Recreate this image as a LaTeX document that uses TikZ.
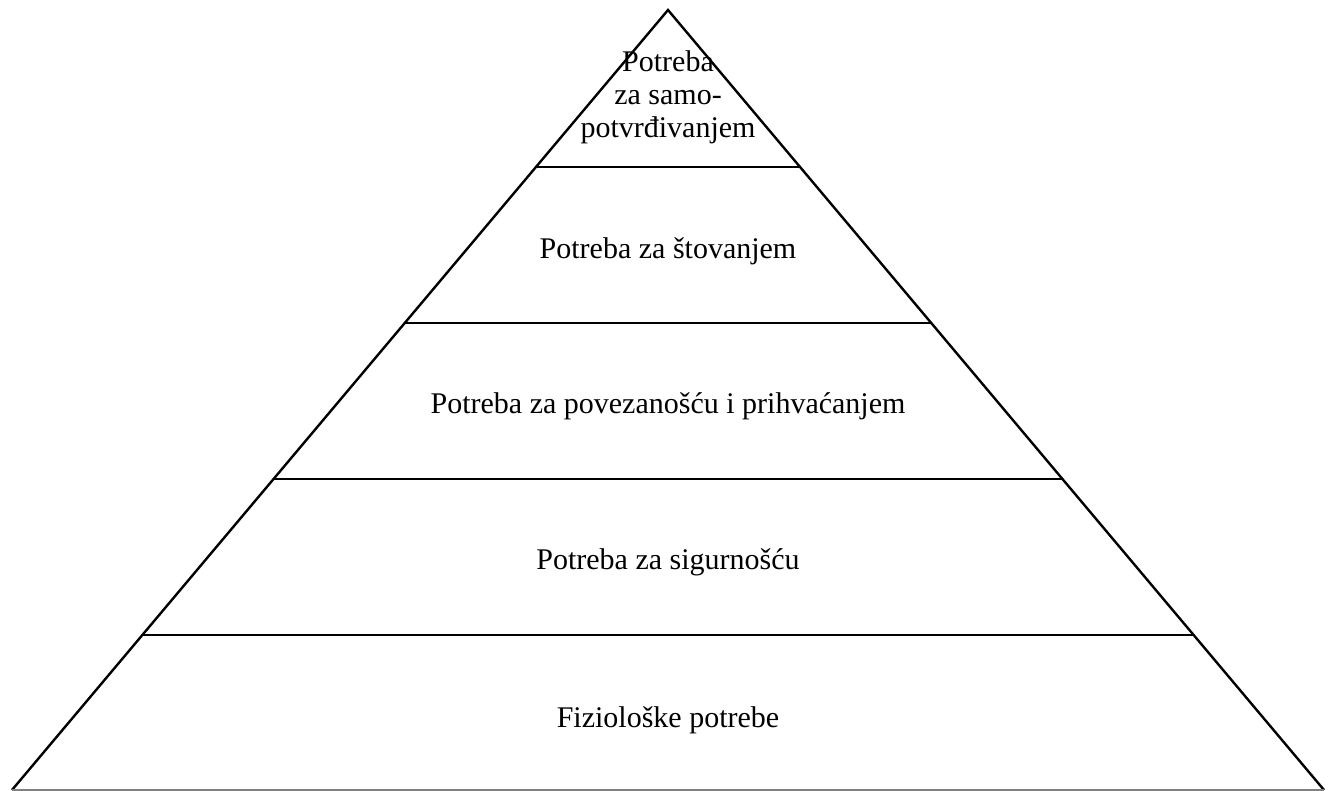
\documentclass[tikz,border=0pt]{standalone}
\usepackage{fontspec}
\setmainfont{Liberation Serif}
\begin{document}
\begin{tikzpicture}[x=1pt,y=-1pt,
  edge/.style={line width=2.4pt,line join=miter},
  tier/.style={line width=2.8pt},
  lbl/.style={font=\rmfamily\fontsize{30}{33}\selectfont,align=center,inner sep=0pt}]
\useasboundingbox (0,0) rectangle (1336,791);
\coordinate (apex) at (668,10);
\coordinate (bl) at (12,790);
\coordinate (br) at (1324,790);
\draw[edge] (bl) -- (apex) -- (br);
\draw[line width=2pt,gray] (bl) -- (br);
\foreach \y/\n in {167/a,323/b,479/c,635/d}{
  \pgfmathsetmacro{\dx}{0.841026*(\y-10)}
  \coordinate (l\n) at ({668-\dx},\y);
  \coordinate (r\n) at ({668+\dx},\y);
  \draw[tier] (l\n) -- (r\n);
}
\node[lbl] (t1) at (668,97) {Potreba\\za samo-\\potvrđivanjem};
\node[lbl] (t2) at (668,251) {Potreba za štovanjem};
\node[lbl] (t3) at (668,406) {Potreba za povezanošću i prihvaćanjem};
\node[lbl] (t4) at (668,562) {Potreba za sigurnošću};
\node[lbl] (t5) at (668,720) {Fiziološke potrebe};
\end{tikzpicture}
\end{document}
